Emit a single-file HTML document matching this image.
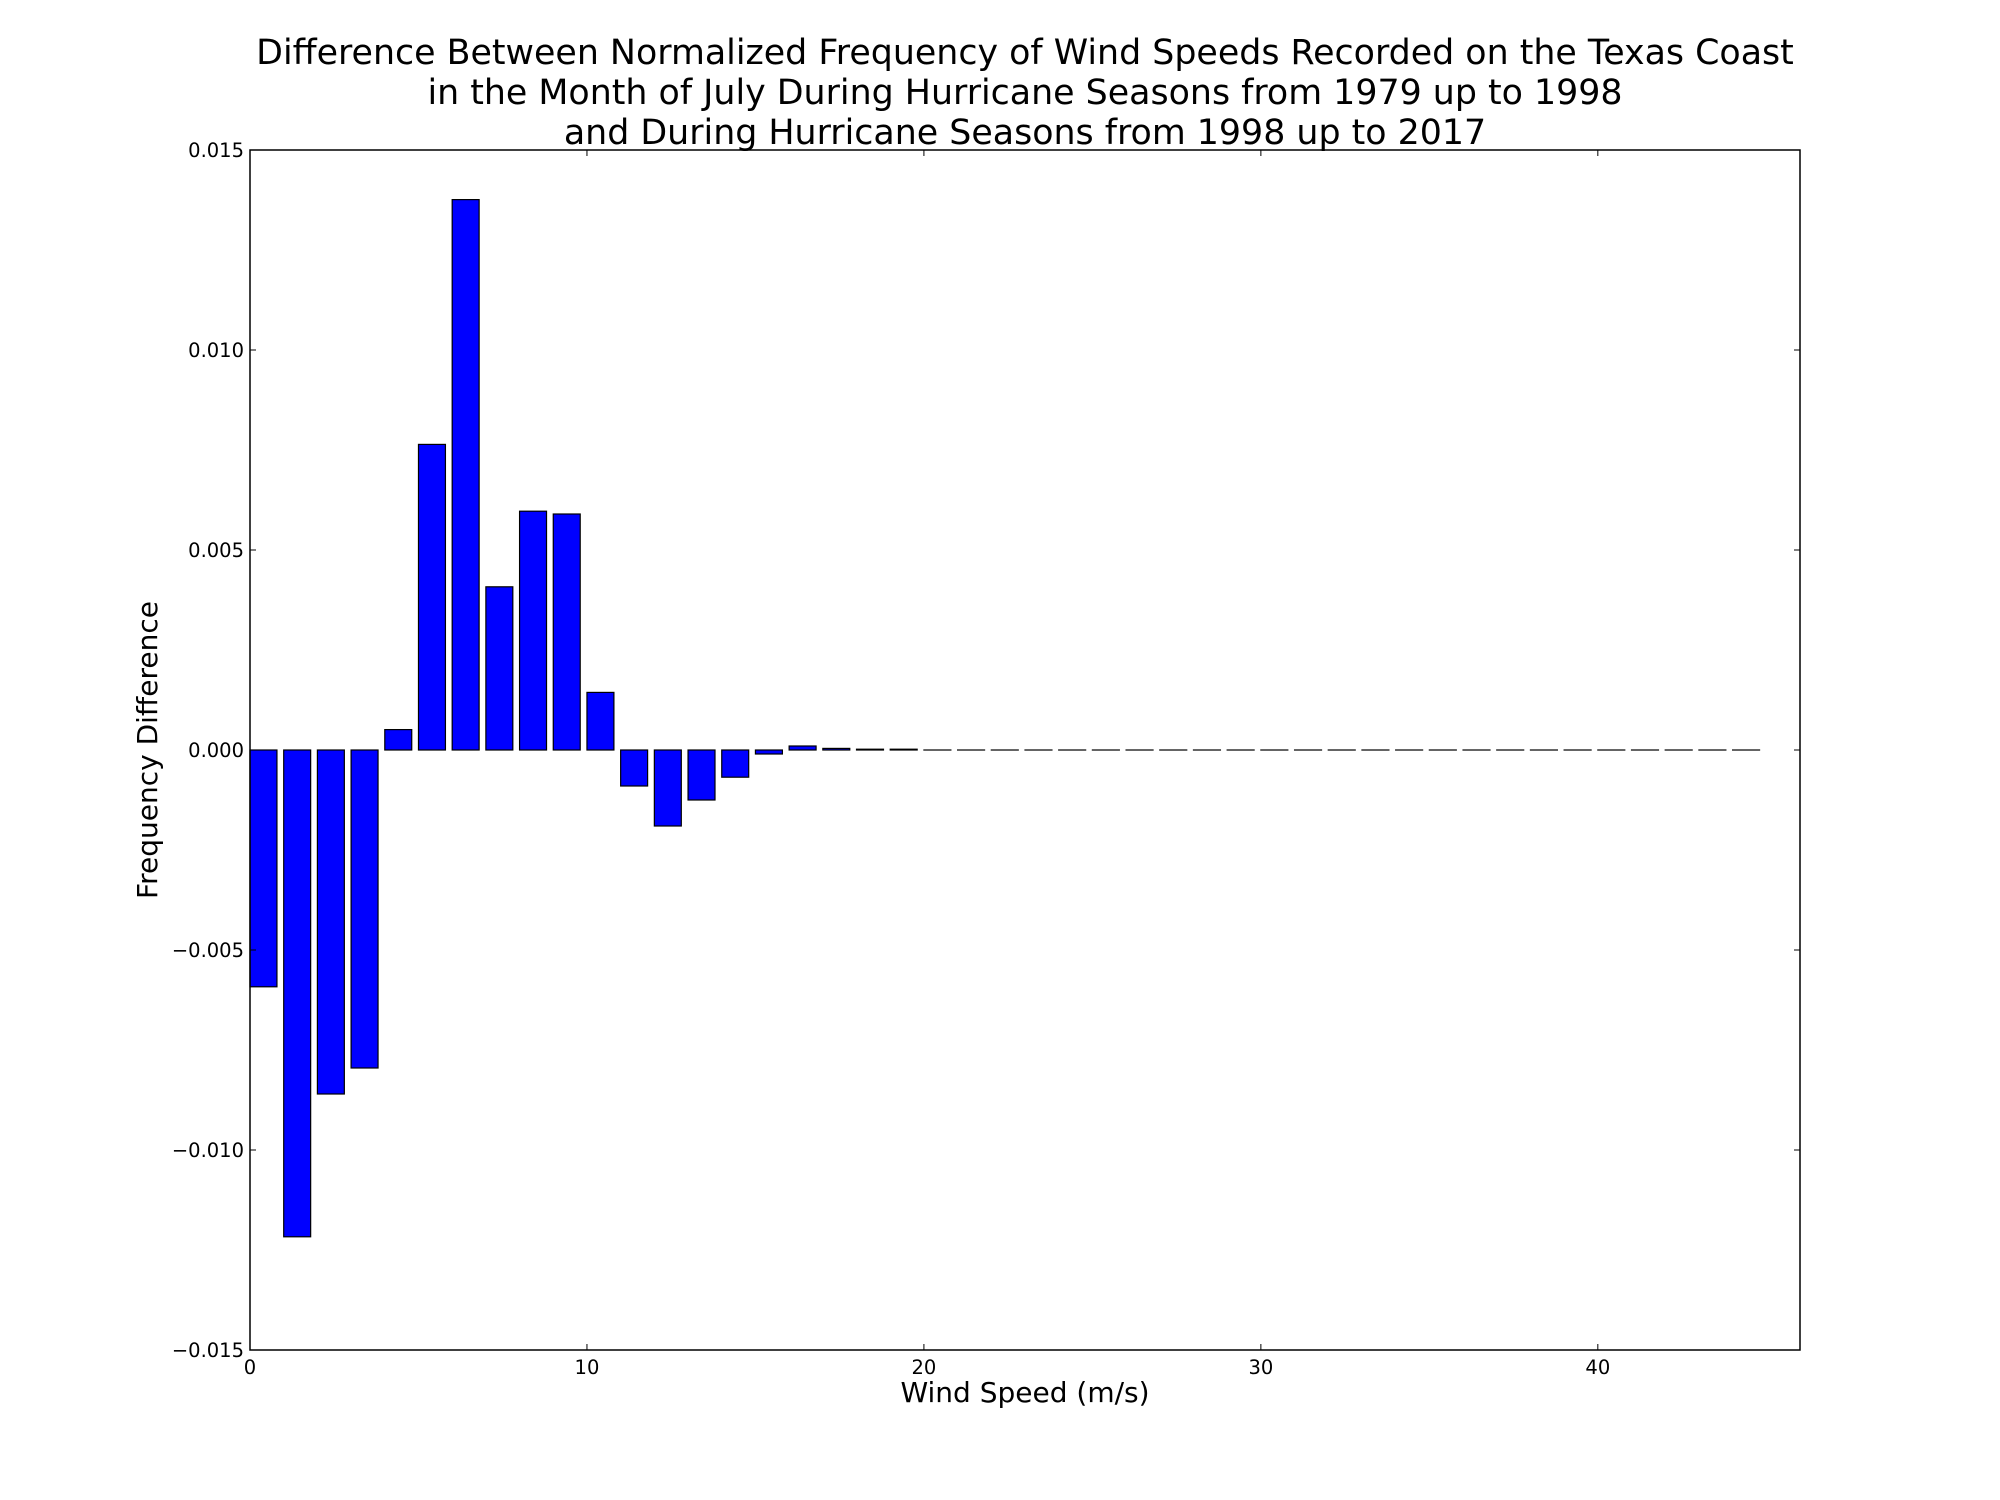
<!DOCTYPE html>
<html><head><meta charset="utf-8"><style>
html,body{margin:0;padding:0;background:#fff;}
svg{display:block;font-family:"DejaVu Sans","Liberation Sans",sans-serif;}
</style></head><body>
<svg id="chart" width="2000" height="1500" viewBox="0 0 2000 1500">
<g font-size="34.8" text-anchor="middle" fill="#000">
<text x="1025" y="64">Difference Between Normalized Frequency of Wind Speeds Recorded on the Texas Coast</text>
<text x="1025" y="104">in the Month of July During Hurricane Seasons from 1979 up to 1998</text>
<text x="1025" y="144">and During Hurricane Seasons from 1998 up to 2017</text>
</g>
<g id="bars"></g>
<rect x="250" y="150" width="1550" height="1200" fill="none" stroke="#000" stroke-width="1.5"/>
<g id="ticks"></g>
<text x="1025" y="1402" font-size="28" text-anchor="middle">Wind Speed (m/s)</text>
<text x="0" y="0" font-size="28" text-anchor="middle" transform="translate(157,750) rotate(-90)">Frequency Difference</text>
</svg>
<script>
const speeds = Array.from({length:45},(_, i)=>i);
const diffs = [-0.00592,-0.01217,-0.0086,-0.00795,0.00051,0.00764,0.01376,0.00408,0.00597,0.0059,0.00144,-0.0009,-0.0019,-0.00125,-0.00068,-0.0001,0.0001,0.00004,0.00002,0.00002,0,0,0,0,0,0,0,0,0,0,0,0,0,0,0,0,0,0,0,0,0,0,0,0,0];
const xTicks = [0,10,20,30,40];
const yTicks = [-0.015,-0.010,-0.005,0.000,0.005,0.010,0.015];
const yTickLabels = ["\u22120.015","\u22120.010","\u22120.005","0.000","0.005","0.010","0.015"];
const barWidth = 0.8;

const L=250,R=1800,T=150,B=1350,XMAX=46,YMIN=-0.015,YMAX=0.015;
const xs=v=>L+(v/XMAX)*(R-L);
const ys=v=>B-(v-YMIN)/(YMAX-YMIN)*(B-T);
const NS="http://www.w3.org/2000/svg";
const bars=document.getElementById('bars');
speeds.forEach((s,i)=>{
  const v=diffs[i];
  const r=document.createElementNS(NS,'rect');
  const x0=xs(s),x1=xs(s+barWidth);
  const y0=ys(Math.max(v,0)),y1=ys(Math.min(v,0));
  r.setAttribute('x',x0);r.setAttribute('width',x1-x0);
  r.setAttribute('y',y0);r.setAttribute('height',Math.max(y1-y0,0.01));
  r.setAttribute('fill','#0000ff');r.setAttribute('stroke','#000');r.setAttribute('stroke-width','1.2');
  
  
  bars.appendChild(r);
});
const tk=document.getElementById('ticks');
xTicks.forEach(t=>{
  const x=xs(t);
  const l1=document.createElementNS(NS,'path');
  l1.setAttribute('d',`M${x},${B}v-6M${x},${T}v6`);l1.setAttribute('stroke','#000');
  
  
  tk.appendChild(l1);
  const tx=document.createElementNS(NS,'text');
  tx.setAttribute('x',x);tx.setAttribute('y',B+24);tx.setAttribute('font-size','19.5');tx.setAttribute('text-anchor','middle');
  tx.textContent=t;
  
  
  tk.appendChild(tx);
});
yTicks.forEach((t,i)=>{
  const y=ys(t);
  const l1=document.createElementNS(NS,'path');
  l1.setAttribute('d',`M${L},${y}h6M${R},${y}h-6`);l1.setAttribute('stroke','#000');
  
  
  tk.appendChild(l1);
  const tx=document.createElementNS(NS,'text');
  tx.setAttribute('x',L-6);tx.setAttribute('y',y+7);tx.setAttribute('font-size','19.5');tx.setAttribute('text-anchor','end');
  tx.textContent=yTickLabels[i];
  
  
  tk.appendChild(tx);
});
</script>
</body></html>
